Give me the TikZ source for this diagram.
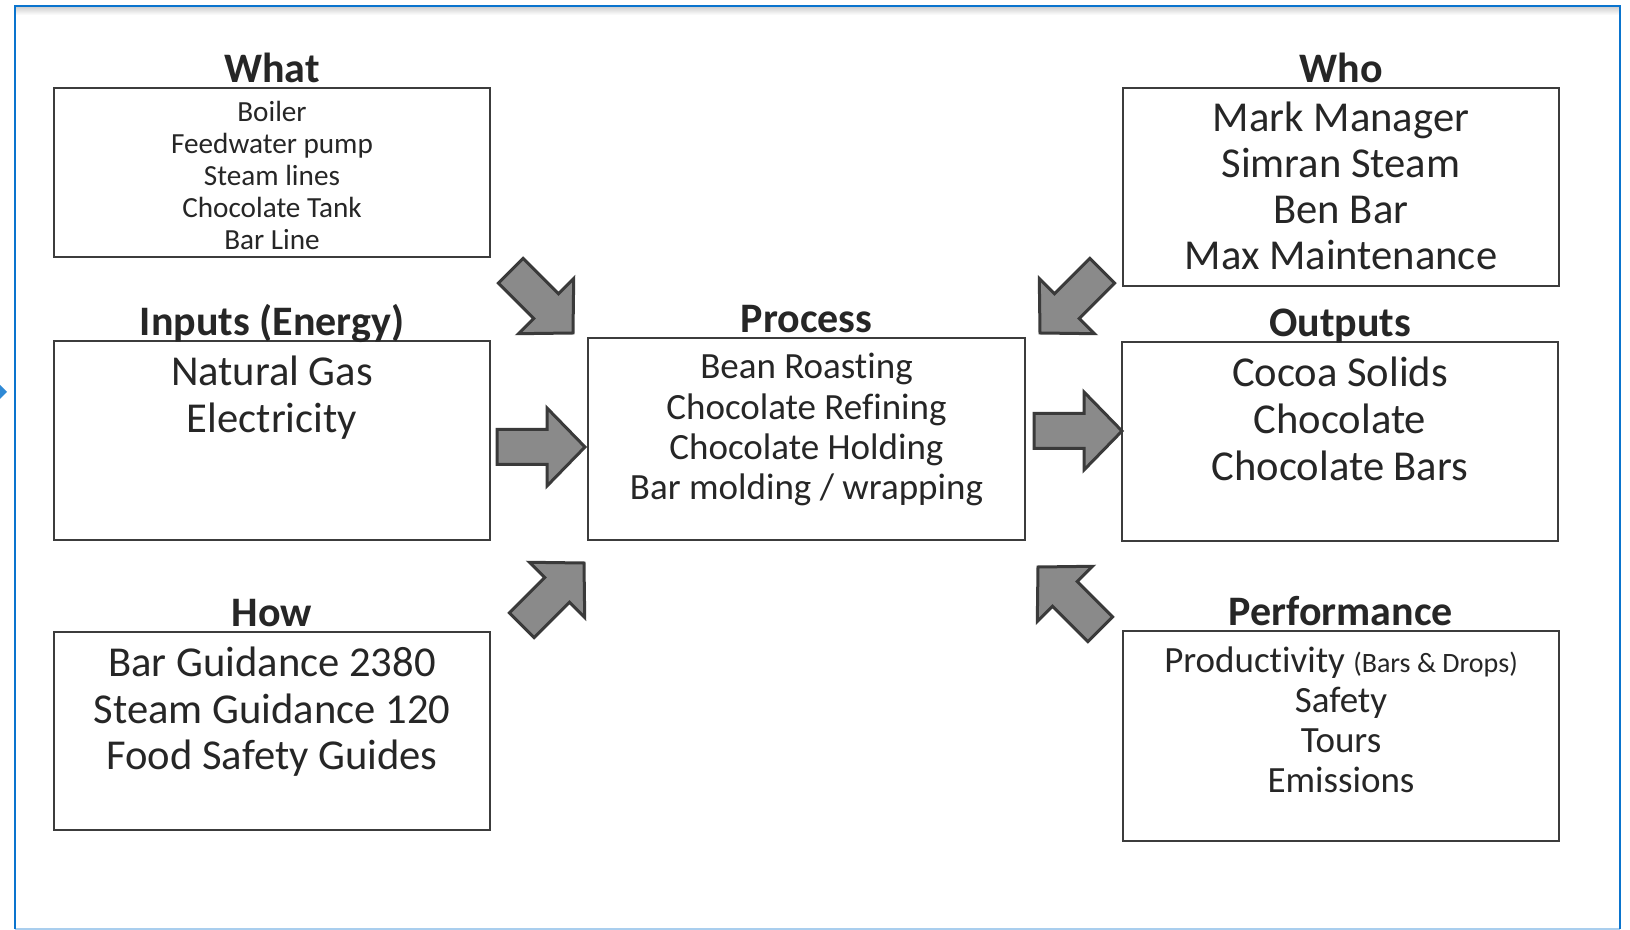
\documentclass[tikz,border=0pt]{standalone}
\usepackage{fontspec}
\setmainfont{Carlito}[RawFeature={-liga}]
\definecolor{framecol}{RGB}{10,116,206}
\definecolor{boxline}{RGB}{60,60,60}
\definecolor{arrowfill}{RGB}{138,138,138}
\definecolor{arrowline}{RGB}{58,58,58}
\definecolor{txt}{RGB}{38,38,38}
\tikzset{
  box/.style={draw=boxline, line width=0.8pt, fill=white, inner sep=0pt},
  ttl/.style={anchor=base, inner sep=0pt, text=txt, font=\fontsize{21pt}{25pt}\selectfont\bfseries},
  body/.style={anchor=base, inner sep=0pt, text=txt},
  arrowstyle/.style={fill=arrowfill, draw=arrowline, line width=1.5pt, line join=miter},
  barrow/.pic={\draw[arrowstyle] (0,0) -- (-38,39) -- (-38,17.5) -- (-88,17.5) -- (-88,-17.5) -- (-38,-17.5) -- (-38,-39) -- cycle;}
}
\begin{document}
\begin{tikzpicture}[x=0.5pt, y=-0.5pt]
\useasboundingbox (0,0) rectangle (1630,930);
% outer frame
\shade[top color=black!18, bottom color=white] (16,7) rectangle (1619,15);
\draw[framecol!35, line width=1pt] (15,929) -- (1620,929);
\draw[framecol, line width=1pt] (15,929) -- (15,6) -- (1620,6) -- (1620,929);
\fill[framecol!85] (-4,381) -- (7,392) -- (-4,403) -- cycle;
% boxes
\node[box, minimum width=218pt, minimum height=84.5pt] (what) at (272,172.5) {};
\node[box, minimum width=218pt, minimum height=99.5pt] (inputs) at (272,440.5) {};
\node[box, minimum width=218pt, minimum height=99pt] (how) at (272,731) {};
\node[box, minimum width=218.5pt, minimum height=101pt] (process) at (806.5,439) {};
\node[box, minimum width=218pt, minimum height=99pt] (who) at (1341,187) {};
\node[box, minimum width=218pt, minimum height=99.5pt] (outputs) at (1340,441.5) {};
\node[box, minimum width=218pt, minimum height=105pt] (perf) at (1341,736) {};
% titles
\node[ttl] (whatttl) at (272,83) {What};
\node[ttl] (inputsttl) at (272,336) {Inputs (Energy)};
\node[ttl] (howttl) at (272,627) {How};
\node[ttl] (processttl) at (806.5,333) {Process};
\node[ttl] (whottl) at (1341,83) {Who};
\node[ttl] (outputsttl) at (1340,337) {Outputs};
\node[ttl] (perfttl) at (1341,626) {Performance};
% texts
\node[body] (whattxt) at (272,121.5) {\fontsize{14.6pt}{16pt}\selectfont\begin{tabular}[t]{@{}c@{}}Boiler\\Feedwater pump\\Steam lines\\Chocolate Tank\\Bar Line\end{tabular}};
\node[body] (inputstxt) at (272,386) {\fontsize{21.3pt}{23.4pt}\selectfont\begin{tabular}[t]{@{}c@{}}Natural Gas\\Electricity\end{tabular}};
\node[body] (howtxt) at (272,677) {\fontsize{21.3pt}{23.1pt}\selectfont\begin{tabular}[t]{@{}c@{}}Bar Guidance 2380\\Steam Guidance 120\\Food Safety Guides\end{tabular}};
\node[body] (processtxt) at (806.5,379) {\fontsize{18.5pt}{20.1pt}\selectfont\begin{tabular}[t]{@{}c@{}}Bean Roasting\\Chocolate Refining\\Chocolate Holding\\Bar molding / wrapping\end{tabular}};
\node[body] (whotxt) at (1341,132) {\fontsize{21.3pt}{23pt}\selectfont\begin{tabular}[t]{@{}c@{}}Mark Manager\\Simran Steam\\Ben Bar\\Max Maintenance\end{tabular}};
\node[body] (outputstxt) at (1340,387) {\fontsize{21.3pt}{23.4pt}\selectfont\begin{tabular}[t]{@{}c@{}}Cocoa Solids\\Chocolate\\Chocolate Bars\end{tabular}};
\node[body] (perftxt) at (1341,673) {\fontsize{18.5pt}{20pt}\selectfont\begin{tabular}[t]{@{}c@{}}Productivity {\fontsize{14pt}{16pt}\selectfont(Bars \& Drops)}\\Safety\\Tours\\Emissions\end{tabular}};
% block arrows
\pic[rotate=-45] at (573,333) {barrow};
\pic at (585,447) {barrow};
\pic[rotate=45] at (584,563) {barrow};
\pic[rotate=-135] at (1040,333) {barrow};
\pic at (1122,431) {barrow};
\pic[rotate=135] at (1038,567) {barrow};
\end{tikzpicture}
\end{document}
